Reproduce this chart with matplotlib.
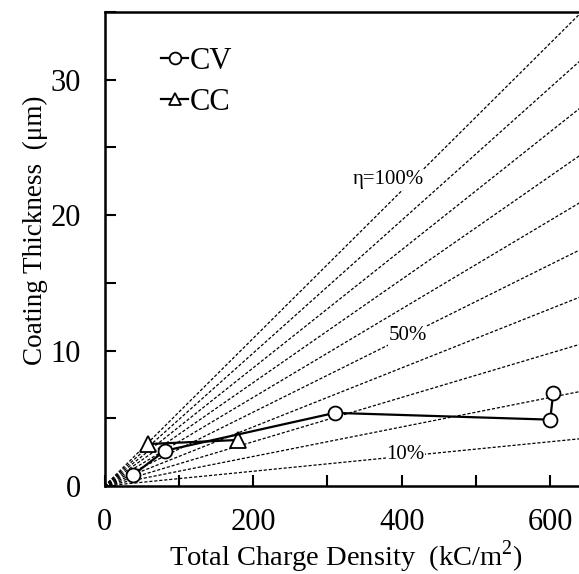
import numpy as np
import matplotlib
matplotlib.use('Agg')
import matplotlib.pyplot as plt
from matplotlib.ticker import MultipleLocator

plt.rcParams['font.family'] = ['Liberation Serif', 'DejaVu Serif']
plt.rcParams['mathtext.fontset'] = 'custom'
plt.rcParams['mathtext.rm'] = 'Liberation Serif'

# data
cv_charge = [38, 81, 310, 600, 604]
cv_thick = [0.8, 2.6, 5.4, 4.9, 6.9]
cc_charge = [59, 180]
cc_thick = [3.1, 3.4]

# efficiency reference lines (thickness = k * eta * Q)
k_full = 0.0545
efficiencies = [0.1, 0.2, 0.3, 0.4, 0.5, 0.6, 0.7, 0.8, 0.9, 1.0]
eta_labels = [(1.0, 'η=100%', 382, 22.6), (0.5, '50%', 408, 11.1), (0.1, '10%', 405, 2.3)]

fig = plt.figure(figsize=(5.79, 5.74), dpi=100)
ax = fig.add_axes([0.1805, 0.1533, 0.834, 0.8257])

q = np.array([0, 700])
for eta in efficiencies:
    ax.plot(q, k_full * eta * q, color='black', lw=0.9, ls=(0, (2.5, 1.5)), zorder=1)

for eta, txt, tx, ty in eta_labels:
    ax.text(tx, ty, txt, fontsize=15, ha='center', va='center', zorder=2,
            bbox=dict(facecolor='white', edgecolor='none', pad=0.5))

ax.plot(cv_charge, cv_thick, color='black', lw=1.6, marker='o', ms=10,
        mfc='white', mec='black', mew=1.3, label='CV', zorder=4)
ax.plot(cc_charge, cc_thick, color='black', lw=1.6, marker='^', ms=11,
        mfc='white', mec='black', mew=1.3, label='CC', zorder=3)

ax.set_xlim(0, 650)
ax.set_ylim(0, 35)
ax.xaxis.set_major_locator(MultipleLocator(200))
ax.xaxis.set_minor_locator(MultipleLocator(100))
ax.yaxis.set_major_locator(MultipleLocator(10))
ax.yaxis.set_minor_locator(MultipleLocator(5))
ax.tick_params(which='both', direction='in', width=1.5, labelsize=22)
ax.tick_params(which='minor', length=8)
ax.tick_params(axis='x', which='major', length=8, pad=16)
ax.tick_params(axis='y', which='major', length=8, pad=17)
for s in ax.spines.values():
    s.set_linewidth(1.8)

ax.set_xlabel('Total Charge Density  (kC/m$^{\\mathrm{2}}$)', fontsize=20.5, labelpad=1)
ax.set_ylabel('Coating Thickness  (μm)', fontsize=19.5, labelpad=2, y=0.54)

leg = ax.legend(loc='upper left', bbox_to_anchor=(0.06, 0.985), frameon=False,
                fontsize=22, handlelength=0.9, handletextpad=0.05, labelspacing=0.4,
                markerscale=0.85)

fig.savefig('out.png', dpi=100)
